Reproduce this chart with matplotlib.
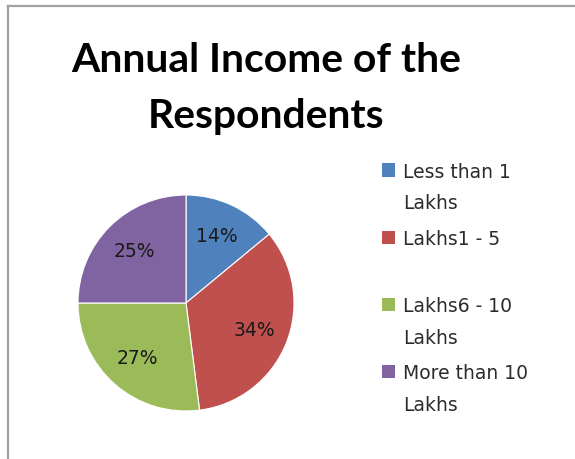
import matplotlib
matplotlib.use("Agg")
import matplotlib.pyplot as plt
from matplotlib.lines import Line2D
from matplotlib.patches import Rectangle

# Data
categories = ["Less than 1\nLakhs", "Lakhs1 - 5", "Lakhs6 - 10\nLakhs", "More than 10\nLakhs"]
shares = [14, 34, 27, 25]
colors = ["#4F81BD", "#C0504D", "#9BBB59", "#8064A2"]
title_lines = ["Annual Income of the", "Respondents"]

W, H = 575, 459
DPI = 100
fig = plt.figure(figsize=(W / DPI, H / DPI), dpi=DPI)
fig.patch.set_facecolor("white")

TITLE_FONT = "Lato"
BODY_FONT = "DejaVu Sans"

def fx(px):
    return px / W

def fy(py):
    return 1 - py / H

# Chart frame (top and left edges)
frame_kw = dict(color="#a0a0a0", linewidth=1.6, transform=fig.transFigure)
fig.add_artist(Line2D([fx(8), 1], [fy(6), fy(6)], **frame_kw))
fig.add_artist(Line2D([fx(8), fx(8)], [fy(6), 0], **frame_kw))

# Title, two centred lines
for line, base in zip(title_lines, [72, 128]):
    fig.text(fx(266), fy(base), line, ha="center", va="baseline",
             fontsize=29.4, fontweight="bold", family=TITLE_FONT, color="black")

# Pie
cx, cy, r = 186, 303, 108
ax = fig.add_axes([fx(cx - r), fy(cy + r), (2 * r) / W, (2 * r) / H])
wedges, texts, autotexts = ax.pie(
    shares, colors=colors, startangle=90, counterclock=False, radius=1,
    autopct=lambda p: f"{p:.0f}%", pctdistance=0.68,
    wedgeprops=dict(edgecolor="white", linewidth=0.8),
    textprops=dict(fontsize=13.5, family=BODY_FONT, color="#1a1a1a"))
ax.set_xlim(-1, 1)
ax.set_ylim(-1, 1)
ax.set_aspect("equal")
ax.axis("off")

# Legend
leg_x_marker = 382
leg_x_text = 403
leg_y0 = 170
leg_step = 67.3
line_gap = 32
msz = 13
for i, (lab, col) in enumerate(zip(categories, colors)):
    y = leg_y0 + i * leg_step
    fig.add_artist(Rectangle((fx(leg_x_marker), fy(y + msz / 2)), msz / W, msz / H,
                             transform=fig.transFigure, facecolor=col,
                             edgecolor="none"))
    for j, line in enumerate(lab.split("\n")):
        fig.text(fx(leg_x_text), fy(y + j * line_gap), line, ha="left",
                 va="center_baseline", fontsize=13.5, family=BODY_FONT,
                 color="#2b2b2b")

fig.savefig("out.png", dpi=DPI)
